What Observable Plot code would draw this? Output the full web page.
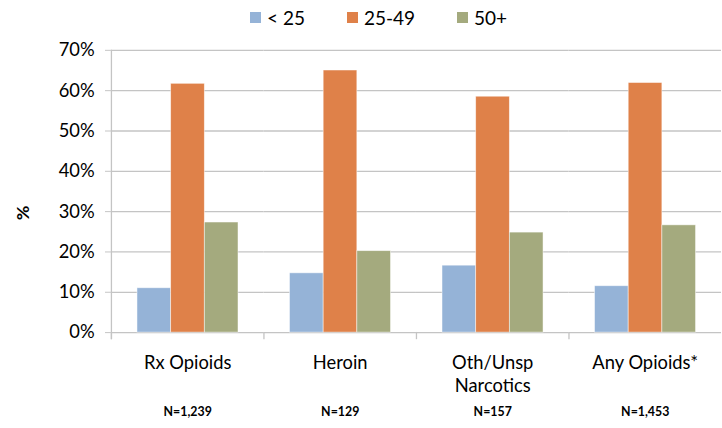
<!DOCTYPE html>
<html>
<head>
<meta charset="utf-8">
<script src="https://cdn.jsdelivr.net/npm/d3@7"></script>
<script src="https://cdn.jsdelivr.net/npm/@observablehq/plot@0.6"></script>
<style>
  html, body { margin: 0; padding: 0; overflow: hidden; background: #fff; width: 722px; height: 428px; }
  body { font-family: Lato, "Open Sans", sans-serif; color: #000; }
  #legend { height: 34px; position: relative; display: flex; align-items: center; padding-left: 250px; box-sizing: border-box; font-size: 19px; }
  .item { display: flex; align-items: center; margin-right: 42px; }
  .sw { width: 11px; height: 11px; margin-right: 6px; }
  svg { display: block; }
</style>
</head>
<body>
<div id="legend"></div>
<div id="chart"></div>
<script>
const categories = ["Rx Opioids", "Heroin", "Oth/Unsp\nNarcotics", "Any Opioids*"];
const nLabels = ["N=1,239", "N=129", "N=157", "N=1,453"];
const series = ["< 25", "25-49", "50+"];
const under25 = [11.0, 14.7, 16.6, 11.5];
const age25to49 = [61.7, 65.0, 58.5, 61.9];
const age50plus = [27.3, 20.2, 24.8, 26.6];
const yTicks = [0, 10, 20, 30, 40, 50, 60, 70];
const colors = ["#95b3d7", "#df8149", "#a4aa7e"];

const values = [under25, age25to49, age50plus];
const rows = [];
categories.forEach((c, i) => series.forEach((s, j) => rows.push({category: c, series: s, value: values[j][i]})));
const nRows = categories.map((c, i) => ({category: c, n: nLabels[i]}));

// legend
const legend = document.getElementById("legend");
series.forEach((s, j) => {
  const it = document.createElement("div");
  it.className = "item";
  const sw = document.createElement("div");
  sw.className = "sw";
  sw.style.background = colors[j];
  const t = document.createElement("span");
  t.textContent = s;
  it.appendChild(sw); it.appendChild(t);
  legend.appendChild(it);
});

const grid = "#c4c4c4";
const chart = Plot.plot({
  width: 729,
  height: 394,
  marginLeft: 110.7,
  marginRight: 0,
  marginTop: 16,
  marginBottom: 93,
  style: {fontFamily: "Lato, 'Open Sans', sans-serif", fontSize: "18px", color: "#000", background: "transparent"},
  fx: {domain: categories, padding: 0, label: null},
  x: {domain: series, paddingInner: 0, paddingOuter: 0.76, axis: null},
  y: {domain: [0, 70], label: null},
  color: {domain: series, range: colors},
  marks: [
    Plot.ruleY(yTicks, {stroke: grid, strokeWidth: 1.3}),
    Plot.frame({anchor: "left", insetTop: 285, insetBottom: -6, stroke: grid, strokeWidth: 1.3}),
    Plot.frame({anchor: "left", fx: categories[0], insetBottom: -6, stroke: grid, strokeWidth: 1.3}),
    Plot.barY(rows, {fx: "category", x: "series", y: "value", fill: "series", stroke: "#fff", strokeWidth: 0.8, strokeOpacity: 0.6, inset: 0}),
    Plot.axisY({ticks: yTicks, tickFormat: d => d + "%", tickSize: 6, tickPadding: 11, stroke: grid, fontSize: 18.5, label: null}),
    Plot.axisFx({anchor: "bottom", tickSize: 0, tickPadding: 20, fontSize: 18.5, lineHeight: 1.25, label: null}),
    Plot.text(nRows, {fx: "category", text: "n", frameAnchor: "bottom", dy: 84, fontSize: 12.5, fontWeight: "bold"}),
    Plot.text(["%"], {fx: () => categories[0], frameAnchor: "left", dx: -88.7, dy: 29, rotate: -90, fontSize: 18, fontWeight: "bold"})
  ]
});
document.getElementById("chart").appendChild(chart);
</script>
</body>
</html>
